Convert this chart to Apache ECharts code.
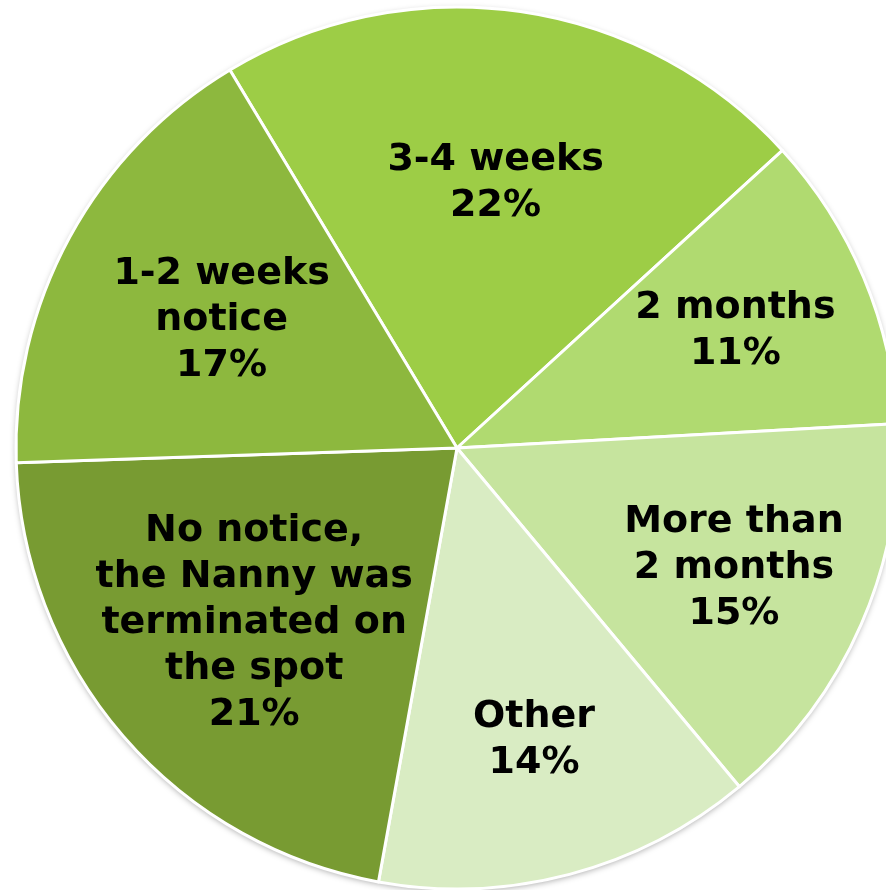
<!DOCTYPE html>
<html>
<head>
<meta charset="utf-8">
<script src="https://cdn.jsdelivr.net/npm/echarts@6/dist/echarts.min.js"></script>
<style>
  html, body { margin: 0; padding: 0; background: #fff; }
  #chart { width: 886px; height: 890px; }
</style>
</head>
<body>
<div id="chart"></div>
<script>
// categories, clockwise from the top-left edge
const categories = [
  '3-4 weeks',
  '2 months',
  'More than\n2 months',
  'Other',
  'No notice,\nthe Nanny was\nterminated on\nthe spot',
  '1-2 weeks\nnotice'
];
const shares = [21.8, 10.9, 14.8, 13.9, 21.6, 16.9];
const colors = ['#9dcd46', '#b0da70', '#c6e49e', '#d9ecc3', '#789b32', '#8db83e'];
// labels of the big slices sit a bit nearer the centre
const nearLabel = [true, false, false, false, true, true];

let pieData = categories.map((c, i) => ({
  name: c,
  value: shares[i],
  itemStyle: { color: colors[i] }
}));

let labelStyle = {
  show: true,
  position: 'inside',
  formatter: '{b}\n{d}%',
  color: '#000',
  fontFamily: 'DejaVu Sans',
  fontWeight: 'bold',
  fontSize: 38,
  lineHeight: 46,
  align: 'center'
};

function labelSeries(inner, near) {
  return {
    type: 'pie',
    center: [457, 448],
    radius: [inner, 441],
    startAngle: 121,
    clockwise: true,
    silent: true,
    percentPrecision: 0,
    itemStyle: { color: 'rgba(0,0,0,0)', borderWidth: 0 },
    label: labelStyle,
    labelLine: { show: false },
    data: categories.map((c, i) => ({
      name: c,
      value: shares[i],
      label: { show: nearLabel[i] === near }
    }))
  };
}

let chart = echarts.init(document.getElementById('chart'));
let option = {
  animation: false,
  series: [
    {
      // soft shadow round the whole pie
      type: 'pie',
      center: [457, 448],
      radius: [0, 441],
      silent: true,
      label: { show: false },
      labelLine: { show: false },
      itemStyle: {
        color: '#ffffff',
        shadowBlur: 6,
        shadowOffsetY: 2,
        shadowColor: 'rgba(0,0,0,0.35)'
      },
      data: [{ name: 'all', value: 1 }]
    },
    {
      // slices
      type: 'pie',
      center: [457, 448],
      radius: [0, 441],
      startAngle: 121,
      clockwise: true,
      silent: true,
      label: { show: false },
      labelLine: { show: false },
      itemStyle: { borderColor: '#ffffff', borderWidth: 3 },
      data: pieData
    },
    labelSeries(89, true),
    labelSeries(157, false)
  ]
};
chart.setOption(option);
</script>
</body>
</html>
